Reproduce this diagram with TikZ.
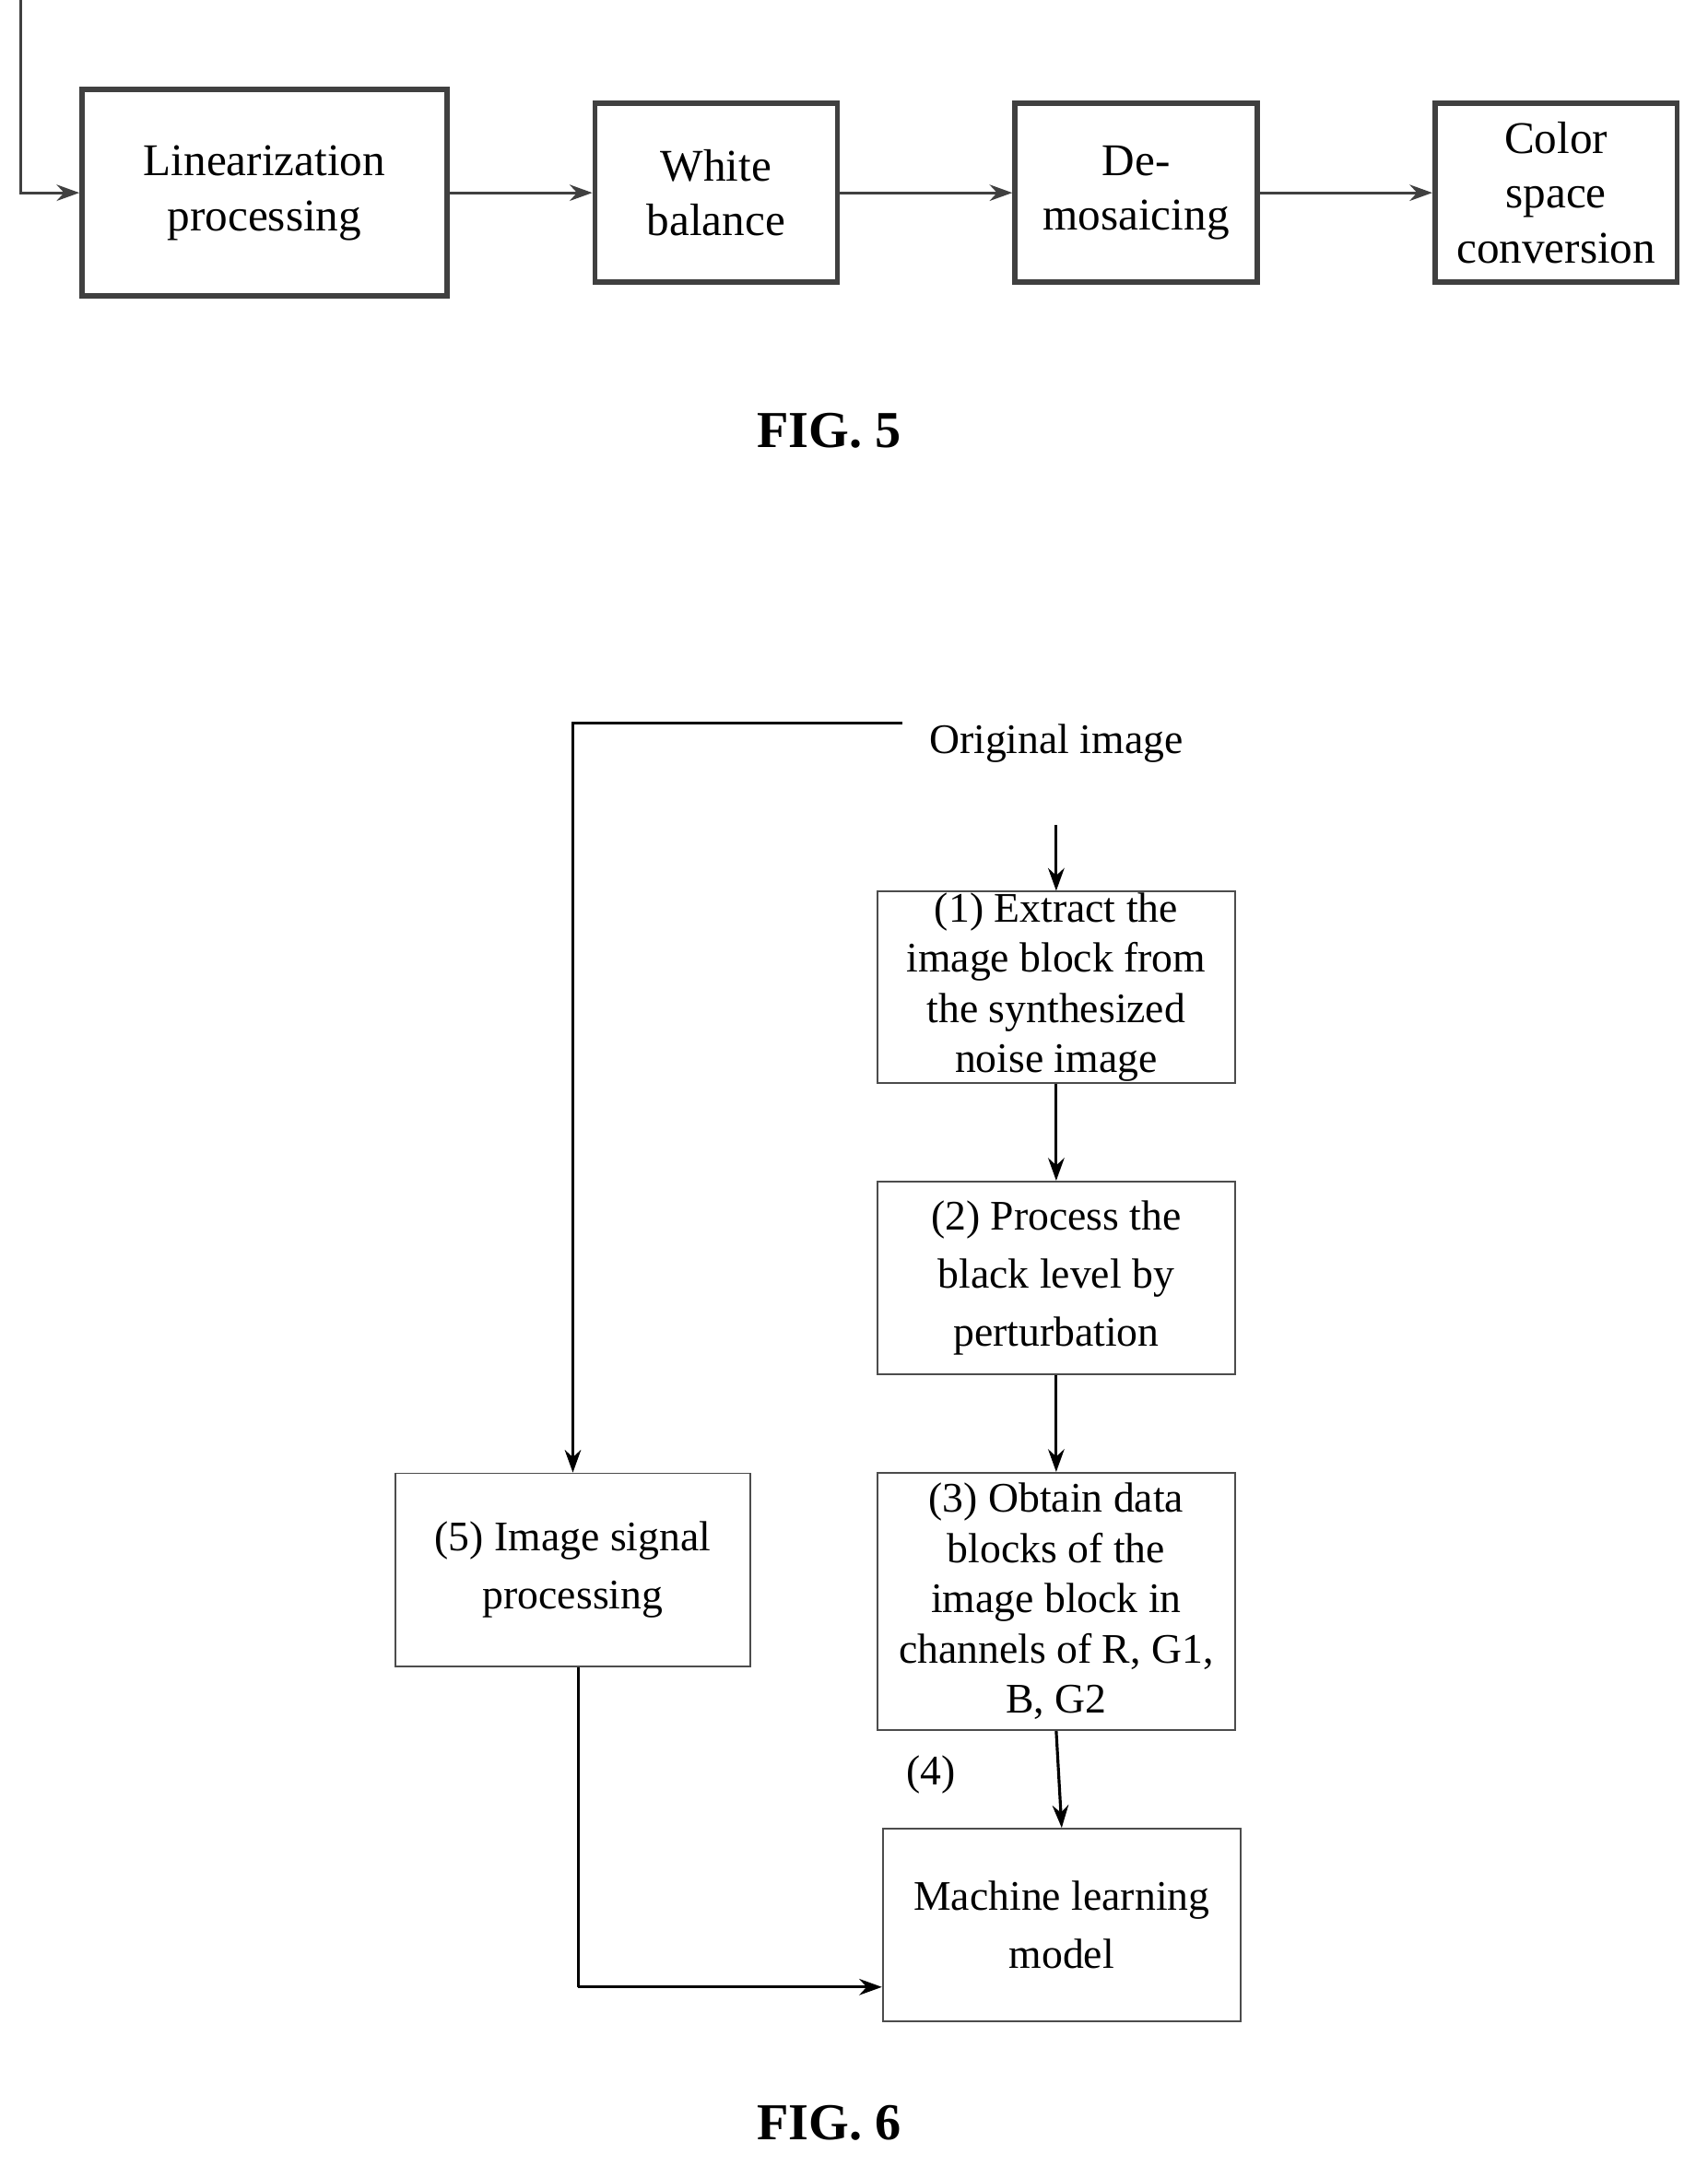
\documentclass[tikz,border=0pt]{standalone}
\usepackage{fontspec}
\setmainfont{Liberation Serif}
\usetikzlibrary{arrows.meta}
\begin{document}
\begin{tikzpicture}[x=0.014935cm,y=-0.014935cm,
  blk/.style={draw=black!75,line width=1.6pt,align=center,inner sep=0pt,font=\fontsize{14}{17}\selectfont},
  box/.style={draw=black!70,line width=0.5pt,align=center,inner sep=0pt,font=\fontsize{13}{15.5}\selectfont},
  arr/.style={-{Stealth[length=7pt,width=5pt]},line width=0.9pt},
  fig/.style={font=\fontsize{16}{18}\selectfont\bfseries}]
\useasboundingbox (0,0) rectangle (1240,1573);
% FIG. 5
\node[blk,minimum width=265*0.14935cm/10,minimum height=150*0.14935cm/10] (lin) at (192,140) {Linearization\\processing};
\node[blk,minimum width=176*0.14935cm/10,minimum height=130*0.14935cm/10] (wb) at (520,140) {White\\balance};
\node[blk,minimum width=176*0.14935cm/10,minimum height=130*0.14935cm/10] (dm) at (825,140) {De-\\mosaicing};
\node[blk,minimum width=176*0.14935cm/10,minimum height=130*0.14935cm/10] (csc) at (1130,140) {Color\\space\\conversion};
\coordinate (in) at (15,0);
\draw[arr,draw=black!75] (in) |- (lin);
\draw[arr,draw=black!75] (lin) -- (wb);
\draw[arr,draw=black!75] (wb) -- (dm);
\draw[arr,draw=black!75] (dm) -- (csc);
\node[fig] (f5) at (602,313) {FIG. 5};
% FIG. 6
\node[font=\fontsize{13}{15.5}\selectfont] (orig) at (767,540) {Original image};
\node[box,minimum width=260*0.14935cm/10,minimum height=139*0.14935cm/10] (s1) at (767,717) {(1) Extract the\\image block from\\the synthesized\\noise image};
\node[box,minimum width=260*0.14935cm/10,minimum height=140*0.14935cm/10,font=\fontsize{13}{18}\selectfont] (s2) at (767,928) {(2) Process the\\black level by\\perturbation};
\node[box,minimum width=260*0.14935cm/10,minimum height=187*0.14935cm/10] (s3) at (767,1163) {(3) Obtain data\\blocks of the\\image block in\\channels of R, G1,\\B, G2};
\node[box,minimum width=258*0.14935cm/10,minimum height=140*0.14935cm/10,font=\fontsize{13}{18}\selectfont] (s5) at (416,1140) {(5) Image signal\\processing};
\node[box,minimum width=260*0.14935cm/10,minimum height=140*0.14935cm/10,font=\fontsize{13}{18}\selectfont] (ml) at (771,1398) {Machine learning\\model};
\coordinate (top) at (655,525);
\coordinate (bot) at (420,1443);
\draw[arr] (orig.south) ++(0,37) -- (s1);
\draw[arr] (s1) -- (s2);
\draw[arr] (s2) -- (s3);
\draw[arr] (s3.south) -- (ml.north) node[pos=0.45,left=28pt,font=\fontsize{13}{15}\selectfont] {(4)};
\draw[arr] (top) -| (s5.north);
\draw[line width=0.9pt] (s5.south -| bot) -- (bot);
\draw[arr] (bot) -- (bot -| ml.west);
\node[fig] (f6) at (602,1542) {FIG. 6};
\end{tikzpicture}
\end{document}
